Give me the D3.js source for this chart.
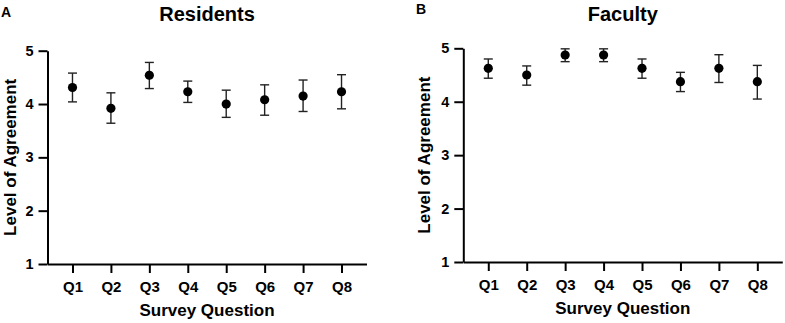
<!DOCTYPE html>
<html>
<head>
<meta charset="utf-8">
<script src="https://cdn.jsdelivr.net/npm/d3@7/dist/d3.min.js"></script>
<style>
  html, body { margin: 0; padding: 0; background: #fff; }
  svg { display: block; }
  text { font-family: "Liberation Sans", Arial, sans-serif; font-weight: bold; fill: #000; }
</style>
</head>
<body>
<svg id="chart" width="785" height="323"></svg>
<script>
const questions = ["Q1", "Q2", "Q3", "Q4", "Q5", "Q6", "Q7", "Q8"];
const yTicks = [1, 2, 3, 4, 5];

const residentsMean  = [4.31, 3.92, 4.54, 4.23, 4.00, 4.08, 4.15, 4.23];
const residentsUpper = [4.58, 4.21, 4.78, 4.43, 4.26, 4.36, 4.45, 4.55];
const residentsLower = [4.04, 3.64, 4.29, 4.03, 3.75, 3.79, 3.86, 3.91];

const facultyMean  = [4.625, 4.5, 4.875, 4.875, 4.625, 4.375, 4.625, 4.375];
const facultyUpper = [4.80, 4.67, 4.99, 4.99, 4.80, 4.55, 4.88, 4.68];
const facultyLower = [4.44, 4.31, 4.75, 4.75, 4.44, 4.19, 4.36, 4.05];

const panels = [
  { letter: "A", title: "Residents", mean: residentsMean, upper: residentsUpper, lower: residentsLower,
    ax: 47.5, yBottom: 264, yTop: 50.7, letterX: 1, letterY: 16.7, labelX: 15.5 },
  { letter: "B", title: "Faculty", mean: facultyMean, upper: facultyUpper, lower: facultyLower,
    ax: 463.3, yBottom: 262, yTop: 48.3, letterX: 416, letterY: 14, labelX: 429.5 }
];

const svg = d3.select("#chart");
const axisWidth = 319;

panels.forEach(p => {
  const g = svg.append("g");
  const x = d3.scalePoint().domain(questions).range([p.ax, p.ax + axisWidth]).padding(0.65);
  const y = d3.scaleLinear().domain([1, 5]).range([p.yBottom, p.yTop]);

  // Y axis
  const yAxis = g.append("g")
    .attr("transform", `translate(${p.ax},0)`)
    .call(d3.axisLeft(y).tickValues(yTicks).tickFormat(d3.format("d")).tickSize(9).tickPadding(5).tickSizeOuter(0));
  yAxis.select(".domain").attr("stroke", "#000").attr("stroke-width", 2);
  yAxis.selectAll(".tick line").attr("stroke", "#000").attr("stroke-width", 2);
  yAxis.selectAll(".tick text").style("font-size", "14.5px").style("font-family", "'Liberation Sans', Arial, sans-serif").style("font-weight", "bold").attr("fill", "#000");

  // X axis
  const xAxis = g.append("g")
    .attr("transform", `translate(0,${p.yBottom})`)
    .call(d3.axisBottom(x).tickSize(9).tickPadding(8).tickSizeOuter(0));
  xAxis.select(".domain").attr("stroke", "#000").attr("stroke-width", 2);
  xAxis.selectAll(".tick line").attr("stroke", "#000").attr("stroke-width", 2);
  xAxis.selectAll(".tick text").style("font-size", "15px").style("font-family", "'Liberation Sans', Arial, sans-serif").style("font-weight", "bold").attr("fill", "#000");

  // Error bars
  const capW = 4.5;
  const eb = g.append("g").attr("stroke", "#222").attr("stroke-width", 1.4).attr("fill", "none");
  questions.forEach((q, i) => {
    const cx = x(q);
    eb.append("line").attr("x1", cx).attr("x2", cx).attr("y1", y(p.upper[i])).attr("y2", y(p.lower[i]));
    eb.append("line").attr("x1", cx - capW).attr("x2", cx + capW).attr("y1", y(p.upper[i])).attr("y2", y(p.upper[i]));
    eb.append("line").attr("x1", cx - capW).attr("x2", cx + capW).attr("y1", y(p.lower[i])).attr("y2", y(p.lower[i]));
  });

  // Points
  g.append("g").selectAll("circle").data(p.mean).join("circle")
    .attr("cx", (d, i) => x(questions[i]))
    .attr("cy", d => y(d))
    .attr("r", 4.6)
    .attr("fill", "#000");

  // Title
  g.append("text").attr("x", p.ax + axisWidth / 2).attr("y", 21).attr("text-anchor", "middle")
    .style("font-size", "20px").text(p.title);
  // Letter
  g.append("text").attr("x", p.letterX).attr("y", p.letterY).style("font-size", "14px").text(p.letter);
  // X axis label
  g.append("text").attr("x", p.ax + axisWidth / 2).attr("y", p.yBottom + 52).attr("text-anchor", "middle")
    .style("font-size", "17px").text("Survey Question");
  // Y axis label
  const cy = (p.yBottom + p.yTop) / 2;
  g.append("text").attr("transform", `translate(${p.labelX},${cy}) rotate(-90)`).attr("text-anchor", "middle")
    .style("font-size", "17px").text("Level of Agreement");
});
</script>
</body>
</html>
